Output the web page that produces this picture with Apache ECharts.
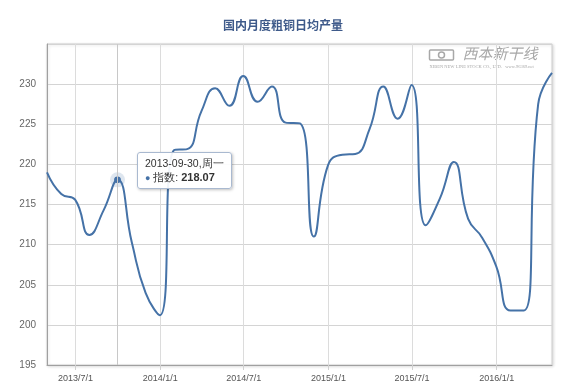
<!DOCTYPE html>
<html>
<head>
<meta charset="utf-8">
<script src="https://cdn.jsdelivr.net/npm/echarts@6/dist/echarts.min.js"></script>
<style>
html,body{margin:0;padding:0;background:#fff;}
#c{width:566px;height:392px;}
</style>
</head>
<body>
<div id="c"></div>
<script>
var titleText = '国内月度粗铜日均产量';
var seriesName = '指数';
var dates = [
 '2013-04-30','2013-05-31','2013-06-30','2013-07-31','2013-08-31','2013-09-30',
 '2013-10-31','2013-11-30','2013-12-31','2014-01-31','2014-02-28','2014-03-31',
 '2014-04-30','2014-05-31','2014-06-30','2014-07-31','2014-08-31','2014-09-30',
 '2014-10-31','2014-11-30','2014-12-31','2015-01-31','2015-02-28','2015-03-31',
 '2015-04-30','2015-05-31','2015-06-30','2015-07-31','2015-08-31','2015-09-30',
 '2015-10-31','2015-11-30','2015-12-31','2016-01-31','2016-02-29','2016-03-31',
 '2016-04-30'
];
var values = [
 219.0, 216.3, 215.6, 211.2, 214.3, 218.07,
 210.3, 204.0, 201.2, 221.8, 221.9, 226.6,
 229.5, 227.3, 231.0, 227.8, 229.7, 225.2,
 225.1, 211.0, 219.9, 221.2, 221.3, 224.4,
 229.7, 225.7, 229.9, 212.4, 215.8, 220.3,
 213.2, 210.9, 207.3, 201.8, 201.8, 227.5,
 231.4
];
var xTickLabels = ['2013/7/1','2014/1/1','2014/7/1','2015/1/1','2015/7/1','2016/1/1'];
var yMin = 195, yMax = 235, yStep = 5;
var highlightIndex = 5;
var weekNames = ['周日','周一','周二','周三','周四','周五','周六'];

function ts(s){ var p = s.split(/[-\/]/); return Date.UTC(+p[0], +p[1]-1, +p[2]); }
var lineData = dates.map(function(d,i){ return [ts(d), values[i]]; });
var xTicks = xTickLabels.map(ts);

var chart = echarts.init(document.getElementById('c'), null, {renderer:'canvas'});
var lineColor = '#4572A7';
chart.setOption({
  animation: false,
  backgroundColor: '#fff',
  title: {
    text: titleText, left: 'center', top: 14,
    textStyle: {color:'#3E5A8A', fontSize: 12, fontWeight: 'bold', fontFamily: 'Noto Sans CJK SC'}
  },
  grid: {
    left: 47, right: 14, top: 44, bottom: 27,
    show: true, borderColor: '#cfcfcf', borderWidth: 1,
    shadowColor: 'rgba(0,0,0,0.15)', shadowBlur: 3, shadowOffsetX: 1, shadowOffsetY: 1,
    backgroundColor: '#fff'
  },
  tooltip: {
    trigger: 'axis',
    triggerOn: 'none',
    alwaysShowContent: true,
    transitionDuration: 0,
    backgroundColor: 'rgba(255,255,255,0.92)',
    borderColor: '#a9b9d0',
    borderWidth: 1,
    padding: [3, 7],
    extraCssText: 'box-shadow:1px 1px 3px rgba(0,0,0,0.25);border-radius:3px;',
    axisPointer: {type:'line', lineStyle:{color:'#c8c8c8', width:1, type:'solid'}, label:{show:false}},
    position: function(){ return [137, 152]; },
    formatter: function(params){
      var p = params[0];
      var d = new Date(p.value[0]);
      var y = d.getUTCFullYear(), m = ('0'+(d.getUTCMonth()+1)).slice(-2), dd = ('0'+d.getUTCDate()).slice(-2);
      return '<div style="font:10.5px Liberation Sans,Arial,sans-serif;color:#333;line-height:14px;">' +
        y+'-'+m+'-'+dd+','+weekNames[d.getUTCDay()] + '<br/>' +
        '<span style="color:'+lineColor+';font-size:9px;">&#9679;</span> ' + p.seriesName + ': ' +
        '<b style="font-size:11px;">' + p.value[1].toFixed(2) + '</b></div>';
    }
  },
  xAxis: {
    type: 'value',
    min: ts(dates[0]), max: ts(dates[dates.length-1]),
    axisLine: {show: true, lineStyle: {color: '#a0a0a0', width: 1}},
    axisTick: {show: true, length: 5, lineStyle:{color:'#d0d0d0'}, customValues: xTicks},
    axisLabel: {
      customValues: xTicks,
      color: '#555', fontSize: 9, fontFamily: 'Liberation Sans', margin: 9,
      formatter: function(v){ var d = new Date(v); return d.getUTCFullYear()+'/'+(d.getUTCMonth()+1)+'/'+d.getUTCDate(); }
    },
    splitLine: {show: true, lineStyle: {color: '#dcdcdc', width: 1}}
  },
  yAxis: {
    type: 'value', min: yMin, max: yMax, interval: yStep,
    axisLine: {show: true, lineStyle: {color: '#a0a0a0', width: 1}},
    axisTick: {show: false},
    axisLabel: {color: '#666', fontSize: 10, fontFamily: 'Liberation Sans', margin: 11, showMaxLabel: false},
    splitLine: {show: true, lineStyle: {color: '#d4d4d4', width: 1}}
  },
  graphic: [
    {type:'group', left: 427, top: 46, silent: true, children: [
      {type:'rect', shape:{x:0,y:1,width:24,height:10,r:1}, style:{fill:'none', stroke:'#a8a8a8', lineWidth:1.5}},
      {type:'circle', shape:{cx:12,cy:6,r:3}, style:{fill:'none', stroke:'#a8a8a8', lineWidth:1.5}},
      {type:'text', x: 33, y: -3, style:{text:'西本新干线', fontSize: 15, fontStyle:'italic', fill:'#a8a8a8', fontFamily:'Noto Sans CJK SC'}},
      {type:'text', x: 0, y: 15, style:{text:'XIBEN NEW LINE STOCK CO., LTD.   www.96369.net', fontSize: 4.5, fill:'#a8a8a8', fontFamily:'Liberation Serif'}}
    ]}
  ],
  series: [
    {
      name: seriesName, type: 'line', smooth: 0.5,
      data: lineData, showSymbol: false, symbol: 'circle', symbolSize: 6,
      itemStyle: {color: lineColor},
      lineStyle: {color: lineColor, width: 2},
      emphasis: {disabled: true},
      z: 3
    },
    {
      name: 'halo', type: 'scatter', silent: true, tooltip: {show:false},
      data: [lineData[highlightIndex]], symbolSize: 15,
      itemStyle: {color: 'rgba(69,114,167,0.22)'}, z: 2
    },
    {
      name: 'dot', type: 'scatter', silent: true, tooltip: {show:false},
      data: [lineData[highlightIndex]], symbolSize: 6,
      itemStyle: {color: lineColor}, z: 4
    }
  ]
});
chart.dispatchAction({type:'showTip', seriesIndex: 0, dataIndex: highlightIndex});
</script>
</body>
</html>
